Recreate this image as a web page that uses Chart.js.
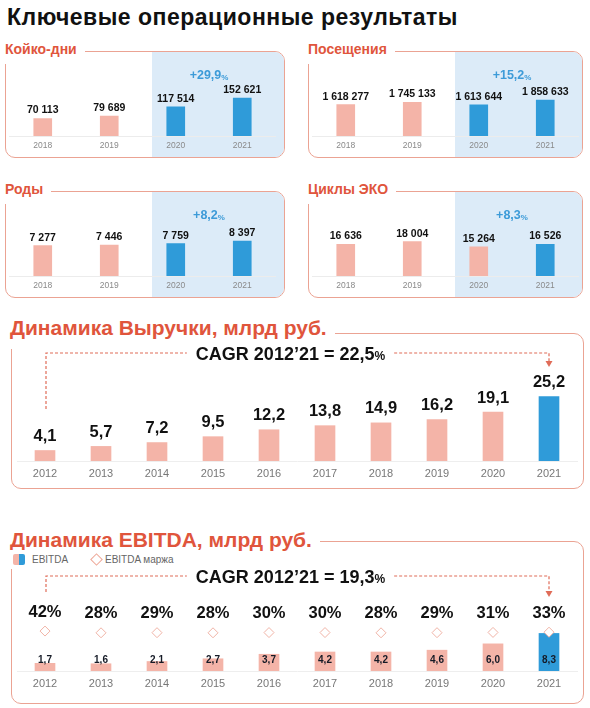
<!DOCTYPE html>
<html lang="ru">
<head>
<meta charset="utf-8">
<title>Ключевые операционные результаты</title>
<script src="https://cdn.jsdelivr.net/npm/chart.js@4.4.1/dist/chart.umd.min.js"></script>
<style>
  html, body { margin: 0; padding: 0; background: #fff; }
  body {
    width: 590px; height: 708px; position: relative; overflow: hidden;
    font-family: "Liberation Sans", Arial, sans-serif;
  }
  .title { position: absolute; left: 7px; top: 4px; font-size: 23px; letter-spacing: 0.5px; font-weight: bold; color: #111; line-height: 26px; }
  .box { position: absolute; border: 1.5px solid #eba393; border-radius: 10px; overflow: hidden; box-sizing: border-box; }
  .shade { position: absolute; top: 0; bottom: 0; right: 0; left: 146px; background: #dcebf8; }
  .chart { position: absolute; }
  .label { position: absolute; background: #fff; color: #e0553c; font-weight: bold; }
  .small-label { font-size: 14px; line-height: 16px; padding: 0 8px 7px 2px; }
  .big-label { font-size: 21px; line-height: 22px; padding: 0 8px 10px 2px; }
  .legend { position: absolute; left: 8px; top: 550px; width: 190px; height: 19px; background: #fff;
    font-size: 10px; color: #666; line-height: 19px; }
  .legend .icon { position: absolute; left: 5px; top: 4px; width: 12px; height: 11px; border-radius: 2px;
    background: linear-gradient(90deg, #f4b4a8 50%, #2f9bd9 50%); }
  .legend .diamond { position: absolute; left: 84px; top: 5px; width: 7px; height: 7px; border: 1px solid #eea797;
    transform: rotate(45deg); background: #fff; }
</style>
</head>
<body>
<div class="title">Ключевые операционные результаты</div>

<!-- small panels -->
<div class="box" style="left:5px;top:51px;width:280px;height:107px"><div class="shade"></div></div>
<div class="label small-label" style="left:3px;top:41px">Койко-дни</div>
<div class="chart" style="left:5px;top:51px;width:280px;height:107px"><canvas id="bedDaysChart"></canvas></div>

<div class="box" style="left:308px;top:51px;width:275px;height:107px"><div class="shade"></div></div>
<div class="label small-label" style="left:306px;top:41px">Посещения</div>
<div class="chart" style="left:308px;top:51px;width:275px;height:107px"><canvas id="visitsChart"></canvas></div>

<div class="box" style="left:5px;top:191px;width:280px;height:107px"><div class="shade"></div></div>
<div class="label small-label" style="left:3px;top:181px">Роды</div>
<div class="chart" style="left:5px;top:191px;width:280px;height:107px"><canvas id="birthsChart"></canvas></div>

<div class="box" style="left:308px;top:191px;width:275px;height:107px"><div class="shade"></div></div>
<div class="label small-label" style="left:306px;top:181px">Циклы ЭКО</div>
<div class="chart" style="left:308px;top:191px;width:275px;height:107px"><canvas id="ivfChart"></canvas></div>

<!-- revenue -->
<div class="box" style="left:11px;top:333px;width:573px;height:156px"></div>
<div class="label big-label" style="left:8px;top:317px">Динамика Выручки, млрд руб.</div>
<div class="chart" style="left:11px;top:333px;width:573px;height:156px"><canvas id="revenueChart"></canvas></div>

<!-- EBITDA -->
<div class="box" style="left:11px;top:541px;width:573px;height:163px"></div>
<div class="label big-label" style="left:8px;top:529px">Динамика EBITDA, млрд руб.</div>
<div class="legend">
  <span class="icon"></span><span style="position:absolute;left:24px">EBITDA</span>
  <span class="diamond"></span><span style="position:absolute;left:97px">EBITDA маржа</span>
</div>
<div class="chart" style="left:11px;top:541px;width:573px;height:163px"><canvas id="ebitdaChart"></canvas></div>

<script>
/* ---------- Data ---------- */
const smallYears = ["2018", "2019", "2020", "2021"];
const bedDays = [70113, 79689, 117514, 152621];
const visits = [1618277, 1745133, 1613644, 1858633];
const births = [7277, 7446, 7759, 8397];
const ivfCycles = [16636, 18004, 15264, 16526];
const growthLabels = ["+29,9", "+15,2", "+8,2", "+8,3"];

const years = ["2012", "2013", "2014", "2015", "2016", "2017", "2018", "2019", "2020", "2021"];
const revenue = [4.1, 5.7, 7.2, 9.5, 12.2, 13.8, 14.9, 16.2, 19.1, 25.2];
const ebitda = [1.7, 1.6, 2.1, 2.7, 3.7, 4.2, 4.2, 4.6, 6.0, 8.3];
const ebitdaMargin = [42, 28, 29, 28, 30, 30, 28, 29, 31, 33];
const revenueCagr = "22,5";
const ebitdaCagr = "19,3";

/* ---------- Style ---------- */
const PINK = "#f4b4a8";
const BLUE = "#2f9bd9";
const DASH = "#e06c58";
const FONT = '"Liberation Sans", Arial, sans-serif';
Chart.defaults.font.family = FONT;
Chart.defaults.animation = false;

const thousands = v => String(v).replace(/\B(?=(\d{3})+(?!\d))/g, " ");
const decimal = v => v.toFixed(1).replace(".", ",");

/* ---------- Small panels ---------- */
function smallChart(id, values, blueFrom, growth, yMax, padRight) {
  const labels = {
    id: "labels",
    afterDatasetsDraw(chart) {
      const { ctx } = chart;
      const bars = chart.getDatasetMeta(0).data;
      ctx.save();
      ctx.textAlign = "center";
      ctx.textBaseline = "middle";
      ctx.fillStyle = "#111";
      ctx.font = "bold 10.5px " + FONT;
      bars.forEach((b, i) => ctx.fillText(thousands(values[i]), b.x, b.y - 8));

      // growth between the last two years
      const cx = (bars[2].x + bars[3].x) / 2;
      ctx.font = "bold 12.5px " + FONT;
      const w1 = ctx.measureText(growth).width;
      ctx.font = "bold 8px " + FONT;
      const w2 = ctx.measureText("%").width;
      const x0 = cx - (w1 + w2) / 2;
      ctx.textAlign = "left";
      ctx.fillStyle = "#3d9bd8";
      ctx.font = "bold 12.5px " + FONT;
      ctx.fillText(growth, x0, 25);
      ctx.font = "bold 8px " + FONT;
      ctx.fillText("%", x0 + w1, 27);
      ctx.restore();
    }
  };

  new Chart(document.getElementById(id), {
    type: "bar",
    data: {
      labels: smallYears,
      datasets: [{
        data: values,
        backgroundColor: values.map((v, i) => (i >= blueFrom ? BLUE : PINK)),
        barThickness: 18
      }]
    },
    options: {
      responsive: true,
      maintainAspectRatio: false,
      layout: { padding: { left: 4.5, right: padRight, top: 0, bottom: 0 } },
      plugins: { legend: { display: false }, tooltip: { enabled: false } },
      scales: {
        x: {
          grid: { display: false, drawTicks: false },
          border: { color: "#ececec" },
          ticks: { color: "#8a8a8a", font: { size: 8.5 }, padding: 5 },
          afterFit: s => { s.height = 22; }
        },
        y: { display: false, min: 0, max: yMax }
      }
    },
    plugins: [labels]
  });
}

smallChart("bedDaysChart", bedDays, 2, growthLabels[0], 341000, 9.5);
smallChart("visitsChart", visits, 2, growthLabels[1], 4390000, 4.5);
smallChart("birthsChart", births, 2, growthLabels[2], 20400, 9.5);
smallChart("ivfChart", ivfCycles, 3, growthLabels[3], 44500, 4.5);

/* ---------- CAGR annotation ---------- */
function drawCagr(chart, cagr, lineY, leftDown, rightDown) {
  const { ctx } = chart;
  const bars = chart.getDatasetMeta(chart.data.datasets.length - 1).data;
  const xa = bars[0].x + 1, xb = bars[bars.length - 1].x;
  const cx = (xa + xb) / 2 - 7;
  const main = "CAGR 2012\u201921 = " + cagr;

  ctx.save();
  ctx.font = "bold 18px " + FONT;
  const w1 = ctx.measureText(main).width;
  ctx.font = "bold 12px " + FONT;
  const w2 = ctx.measureText("%").width;
  const tx = cx - (w1 + w2) / 2;

  ctx.fillStyle = "#111";
  ctx.textBaseline = "middle";
  ctx.textAlign = "left";
  ctx.font = "bold 18px " + FONT;
  ctx.fillText(main, tx, lineY + 2);
  ctx.font = "bold 12px " + FONT;
  ctx.fillText("%", tx + w1, lineY + 4);

  ctx.strokeStyle = DASH;
  ctx.lineWidth = 1.2;
  ctx.setLineDash([3, 2]);
  ctx.beginPath();
  ctx.moveTo(xa, leftDown);
  ctx.lineTo(xa, lineY);
  ctx.lineTo(tx - 9, lineY);
  ctx.moveTo(tx + w1 + w2 + 9, lineY);
  ctx.lineTo(xb, lineY);
  ctx.lineTo(xb, rightDown - 5);
  ctx.stroke();
  ctx.setLineDash([]);
  ctx.fillStyle = DASH;
  ctx.beginPath();
  ctx.moveTo(xb - 3.5, rightDown - 6);
  ctx.lineTo(xb + 3.5, rightDown - 6);
  ctx.lineTo(xb, rightDown);
  ctx.closePath();
  ctx.fill();
  ctx.restore();
}

const bigX = {
  grid: { display: false, drawTicks: false },
  border: { color: "#eeeeee" },
  ticks: { color: "#777", font: { size: 11 }, padding: 6 }
};

/* ---------- Revenue ---------- */
new Chart(document.getElementById("revenueChart"), {
  type: "bar",
  data: {
    labels: years,
    datasets: [{
      data: revenue,
      backgroundColor: revenue.map((v, i) => (i === revenue.length - 1 ? BLUE : PINK)),
      barThickness: 20
    }]
  },
  options: {
    responsive: true,
    maintainAspectRatio: false,
    layout: { padding: { left: 6, right: 7, top: 0, bottom: 0 } },
    plugins: { legend: { display: false }, tooltip: { enabled: false } },
    scales: {
      x: { ...bigX, afterFit: s => { s.height = 28; } },
      y: { display: false, min: 0, max: 50 }
    }
  },
  plugins: [{
    id: "revenueLabels",
    afterDatasetsDraw(chart) {
      const { ctx } = chart;
      ctx.save();
      ctx.textAlign = "center";
      ctx.textBaseline = "middle";
      ctx.fillStyle = "#111";
      ctx.font = "bold 16.5px " + FONT;
      chart.getDatasetMeta(0).data.forEach((b, i) => ctx.fillText(decimal(revenue[i]), b.x, b.y - 14));
      ctx.restore();
      drawCagr(chart, revenueCagr, 20, 76, 34);
    }
  }]
});

/* ---------- EBITDA ---------- */
new Chart(document.getElementById("ebitdaChart"), {
  data: {
    labels: years,
    datasets: [{
      type: "line",
      data: ebitdaMargin,
      yAxisID: "y2",
      showLine: false,
      pointStyle: "rectRot",
      pointRadius: 5,
      pointBorderWidth: 1,
      pointBorderColor: "#f0b3a6",
      pointBackgroundColor: "#fff",
      order: 0
    }, {
      type: "bar",
      data: ebitda,
      backgroundColor: ebitda.map((v, i) => (i === ebitda.length - 1 ? BLUE : PINK)),
      barThickness: 20,
      order: 1
    }]
  },
  options: {
    responsive: true,
    maintainAspectRatio: false,
    layout: { padding: { left: 6, right: 7, top: 0, bottom: 0 } },
    plugins: { legend: { display: false }, tooltip: { enabled: false } },
    scales: {
      x: { ...bigX, afterFit: s => { s.height = 33; } },
      y: { display: false, min: 0, max: 27.4 },
      y2: { display: false, min: -280, max: 720 }
    }
  },
  plugins: [{
    id: "ebitdaLabels",
    afterDatasetsDraw(chart) {
      const { ctx } = chart;
      const base = chart.scales.x.top;
      ctx.save();
      ctx.textAlign = "center";
      ctx.textBaseline = "middle";
      ctx.fillStyle = "#151a26";
      ctx.font = "bold 10px " + FONT;
      chart.getDatasetMeta(1).data.forEach((b, i) => ctx.fillText(decimal(ebitda[i]), b.x, base - 11));
      ctx.fillStyle = "#111";
      ctx.font = "bold 16.5px " + FONT;
      chart.getDatasetMeta(0).data.forEach((p, i) => ctx.fillText(ebitdaMargin[i] + "%", p.x, p.y - 19));
      ctx.restore();
      drawCagr(chart, ebitdaCagr, 35, 51, 56);
    }
  }]
});
</script>
</body>
</html>
